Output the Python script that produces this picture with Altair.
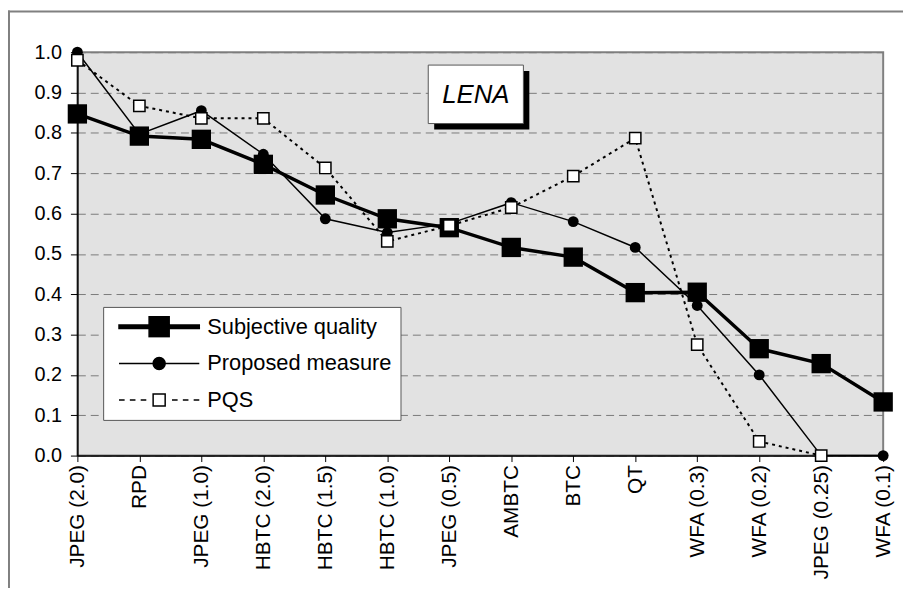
import altair as alt
import pandas as pd

categories = ["JPEG (2.0)", "RPD", "JPEG (1.0)", "HBTC (2.0)", "HBTC (1.5)", "HBTC (1.0)",
              "JPEG (0.5)", "AMBTC", "BTC", "QT", "WFA (0.3)", "WFA (0.2)", "JPEG (0.25)", "WFA (0.1)"]
subjective = [0.847, 0.792, 0.784, 0.722, 0.646, 0.587, 0.565, 0.516, 0.492, 0.404, 0.405, 0.265, 0.228, 0.133]
proposed = [1.0, 0.797, 0.855, 0.747, 0.587, 0.553, 0.575, 0.627, 0.58, 0.516, 0.372, 0.200, 0.0, 0.0]
pqs = [0.98, 0.867, 0.836, 0.836, 0.713, 0.531, 0.57, 0.615, 0.693, 0.787, 0.275, 0.035, 0.0, None]
series_names = ["Subjective quality", "Proposed measure", "PQS"]
panel_title = "LENA"
y_ticks = [0.0, 0.1, 0.2, 0.3, 0.4, 0.5, 0.6, 0.7, 0.8, 0.9, 1.0]

rows = []
for name, vals in zip(series_names, [subjective, proposed, pqs]):
    for c, v in zip(categories, vals):
        if v is not None:
            rows.append({"category": c, "series": name, "value": v})
df = pd.DataFrame(rows)

FONT = "Liberation Sans"

x_enc = alt.X("category:N", sort=categories, title=None,
              scale=alt.Scale(type="point", padding=0),
              axis=alt.Axis(labelAngle=270, labelFontSize=21, labelFont=FONT, labelColor="black",
                            domainColor="black", domainWidth=1.5, tickColor="black", tickSize=6,
                            labelPadding=3, labelBaseline="middle", labelAlign="right", grid=False))
y_enc = alt.Y("value:Q", title=None,
              scale=alt.Scale(domain=[0, 1], nice=False, zero=True),
              axis=alt.Axis(values=y_ticks, format=".1f", labelFontSize=20, labelFont=FONT,
                            labelColor="black", domainColor="black", domainWidth=1.5,
                            tickColor="black", tickSize=7, labelPadding=9,
                            grid=True, gridColor="#7a7a7a", gridDash=[8, 5], gridWidth=1))

base = alt.Chart(df).encode(x=x_enc, y=y_enc)


def sel(name):
    return base.transform_filter(alt.datum.series == name)


prop_line = sel("Proposed measure").mark_line(color="black", strokeWidth=1.5)
prop_pts = sel("Proposed measure").mark_point(shape="circle", filled=True, color="black",
                                              size=120, opacity=1)
subj_line = sel("Subjective quality").mark_line(color="black", strokeWidth=3.5)
subj_pts = sel("Subjective quality").mark_point(shape="square", filled=True, color="black",
                                                size=380, opacity=1)
pqs_line = sel("PQS").mark_line(color="black", strokeWidth=2, strokeDash=[3, 4])
pqs_pts = sel("PQS").mark_point(shape="square", filled=True, fill="white", stroke="black",
                                strokeWidth=1.5, size=130, opacity=1)

# legend (drawn by Vega-Lite's own legend, from an empty layer)
paths = [
    "M-1,-0.045H1V0.045H-1Z M-0.25,-0.25H0.25V0.25H-0.25Z",
    "M-1,0H1 M-0.15,0A0.15,0.15,0,1,0,0.15,0A0.15,0.15,0,1,0,-0.15,0Z",
    "M-1,0H-0.86 M-0.73,0H-0.59 M-0.46,0H-0.32 M0.32,0H0.46 M0.59,0H0.73 M0.86,0H1 "
    "M-0.15,-0.15H0.15V0.15H-0.15Z",
]
legend_layer = alt.Chart(df).transform_filter("false").mark_point(
    filled=False, color="black", strokeWidth=1.5, opacity=1
).encode(
    x=alt.X("category:N", sort=categories),
    y=alt.Y("value:Q"),
    shape=alt.Shape("series:N", scale=alt.Scale(domain=series_names, range=paths),
                    legend=alt.Legend(orient="none", legendX=26, legendY=257, title=None,
                                      symbolSize=6561, symbolStrokeColor="black",
                                      symbolStrokeWidth=1.5, symbolOffset=6,
                                      labelFontSize=22, labelFont=FONT,
                                      labelColor="black", labelOffset=7, padding=9,
                                      clipHeight=22, rowPadding=15,
                                      fillColor="white", strokeColor="#555555",
                                      labelLimit=400)),
    fill=alt.Fill("series:N", scale=alt.Scale(domain=series_names,
                                               range=["black", "black", "white"])),
    stroke=alt.Stroke("series:N", scale=alt.Scale(domain=series_names,
                                                   range=["black", "black", "black"])),
)

box_data = pd.DataFrame({"label": [panel_title]})
shadow = alt.Chart(box_data).mark_rect(color="black").encode(
    x=alt.value(360), x2=alt.value(456), y=alt.value(19), y2=alt.value(78))
box = alt.Chart(box_data).mark_rect(fill="white", stroke="#555555", strokeWidth=1).encode(
    x=alt.value(354), x2=alt.value(450), y=alt.value(13), y2=alt.value(72))
box_text = alt.Chart(box_data).mark_text(font=FONT, fontSize=26, fontStyle="italic",
                                         color="black", align="center", baseline="middle").encode(
    x=alt.value(402), y=alt.value(43), text="label:N")

frame_data = pd.DataFrame({"k": [0]})
frame_top = alt.Chart(frame_data).mark_rule(color="#808080", strokeWidth=2).encode(
    x=alt.value(-70), x2=alt.value(850), y=alt.value(-41))
frame_left = alt.Chart(frame_data).mark_rule(color="#808080", strokeWidth=2).encode(
    x=alt.value(-69), y=alt.value(-42), y2=alt.value(560))

chart = alt.layer(
    frame_top, frame_left,
    prop_line, subj_line, pqs_line, prop_pts, subj_pts, pqs_pts,
    shadow, box, box_text, legend_layer
).properties(
    width=813, height=407,
    autosize=alt.AutoSizeParams(type="none"),
    padding={"left": 70, "top": 42, "right": 20, "bottom": 131},
    background="white",
).configure_view(
    fill="#e2e2e2", stroke="#808080", strokeWidth=2
).configure_legend(strokeWidth=1)

chart.save("out.html", embed_options={"renderer": "svg", "actions": False})
